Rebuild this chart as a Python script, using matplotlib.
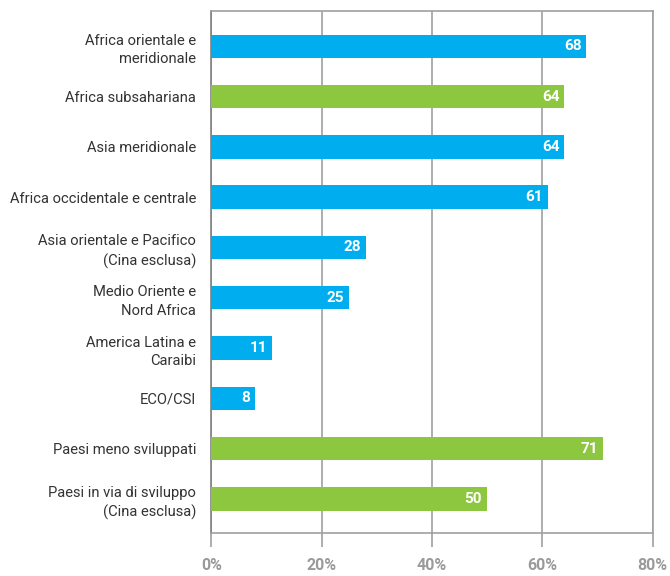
import matplotlib
matplotlib.use('Agg')
import matplotlib.pyplot as plt
import numpy as np

plt.rcParams['font.family'] = ['Roboto', 'DejaVu Sans']

regions = ["Africa orientale e\nmeridionale", "Africa subsahariana", "Asia meridionale",
           "Africa occidentale e centrale", "Asia orientale e Pacifico\n(Cina esclusa)",
           "Medio Oriente e\nNord Africa", "America Latina e\nCaraibi", "ECO/CSI",
           "Paesi meno sviluppati", "Paesi in via di sviluppo\n(Cina esclusa)"]
values = [68, 64, 64, 61, 28, 25, 11, 8, 71, 50]
is_aggregate = [False, True, False, False, False, False, False, False, True, True]
xticks = [0, 20, 40, 60, 80]

blue = '#00aeef'
green = '#8dc63f'
grid = '#a0a0a0'

fig = plt.figure(figsize=(6.7, 5.76), dpi=100)
ax = fig.add_axes([0.3154, 0.0752, 0.6587, 0.9057])

y = np.arange(len(regions))
colors = [green if g else blue for g in is_aggregate]
ax.barh(y, values, height=0.465, color=colors, zorder=3)

for yi, v in zip(y, values):
    ax.text(v - 0.9, yi, str(v), ha='right', va='center', color='white',
            fontsize=11, fontweight='bold', zorder=4)

ax.set_xlim(0, 80)
ax.set_ylim(9.67, -0.70)
ax.set_yticks(y)
ax.set_yticklabels(regions, fontsize=10.6, color='#333333', linespacing=1.4)
ax.tick_params(axis='y', length=0, pad=11)

ax.set_xticks(xticks)
ax.set_xticklabels([f"{t}%" for t in xticks], fontsize=11.5, color='#9a9a9a',
                   fontweight='bold')
ax.tick_params(axis='x', length=10, width=1.2, color=grid, pad=8)
ax.xaxis.grid(True, color=grid, linewidth=1.2, zorder=0)

for side in ['top', 'right', 'bottom']:
    ax.spines[side].set_color(grid)
    ax.spines[side].set_linewidth(1.2)
ax.spines['left'].set_color('#808080')
ax.spines['left'].set_linewidth(1.2)

fig.savefig('out.png', dpi=100)
